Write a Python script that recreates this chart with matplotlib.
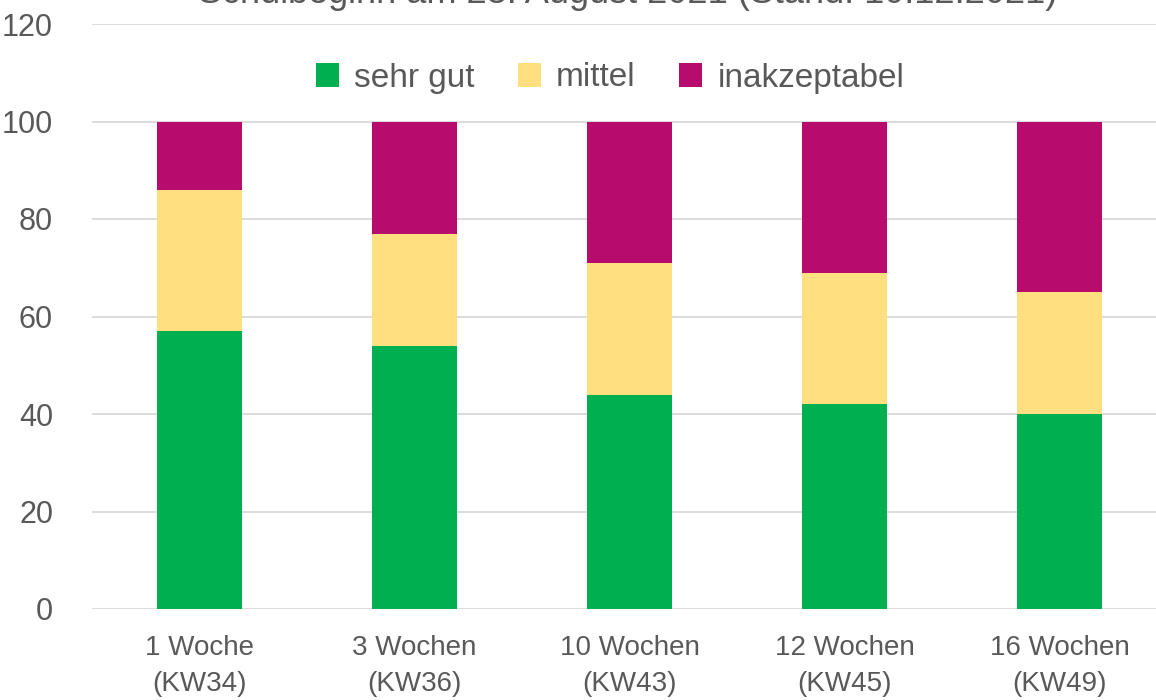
import matplotlib.pyplot as plt
import numpy as np

plt.rcParams['font.family'] = ['Liberation Sans', 'DejaVu Sans']

categories = ["1 Woche\n(KW34)", "3 Wochen\n(KW36)", "10 Wochen\n(KW43)",
              "12 Wochen\n(KW45)", "16 Wochen\n(KW49)"]
sehr_gut = [57, 54, 44, 42, 40]
mittel = [29, 23, 27, 27, 25]
inakzeptabel = [14, 23, 29, 31, 35]

colors = ["#00b050", "#ffdf80", "#b80b6e"]
gray = "#595959"

fig = plt.figure(figsize=(11.56, 7), dpi=100)
ax = fig.add_axes([92 / 1156, 91 / 700, 1064 / 1156, 585 / 700])

x = np.arange(len(categories))
w = 0.395
ax.bar(x, sehr_gut, w, color=colors[0], label="sehr gut", zorder=3)
ax.bar(x, mittel, w, bottom=sehr_gut, color=colors[1], label="mittel", zorder=3)
bottom2 = np.array(sehr_gut) + np.array(mittel)
ax.bar(x, inakzeptabel, w, bottom=bottom2, color=colors[2], label="inakzeptabel", zorder=3)

ax.set_xlim(-0.5, 4.449)
ax.set_ylim(0, 120)
ax.set_yticks(range(0, 121, 20))
ax.yaxis.grid(True, color="#d9d9d9", linewidth=1.3, zorder=0)
for s in ax.spines.values():
    s.set_visible(False)
ax.tick_params(axis="both", length=0, colors=gray)
ax.tick_params(axis="y", labelsize=22, pad=28)
ax.set_xticks(x)
ax.set_xticklabels(categories, fontsize=20, color=gray, linespacing=1.5)
ax.tick_params(axis="x", pad=19)

leg = fig.legend(loc="center", bbox_to_anchor=(610 / 1156, 1 - 78 / 700), ncol=3, frameon=False,
                 prop={"size": 24},
                 handlelength=0.7, handleheight=0.7, handletextpad=0.45, columnspacing=1.3)
for t in leg.get_texts():
    t.set_color(gray)

fig.text(628 / 1156, 1 - 3 / 700, "Schulbeginn am 23. August 2021 (Stand: 10.12.2021)",
         ha="center", va="baseline", fontsize=26, color=gray)

fig.savefig("out.png", dpi=100)
